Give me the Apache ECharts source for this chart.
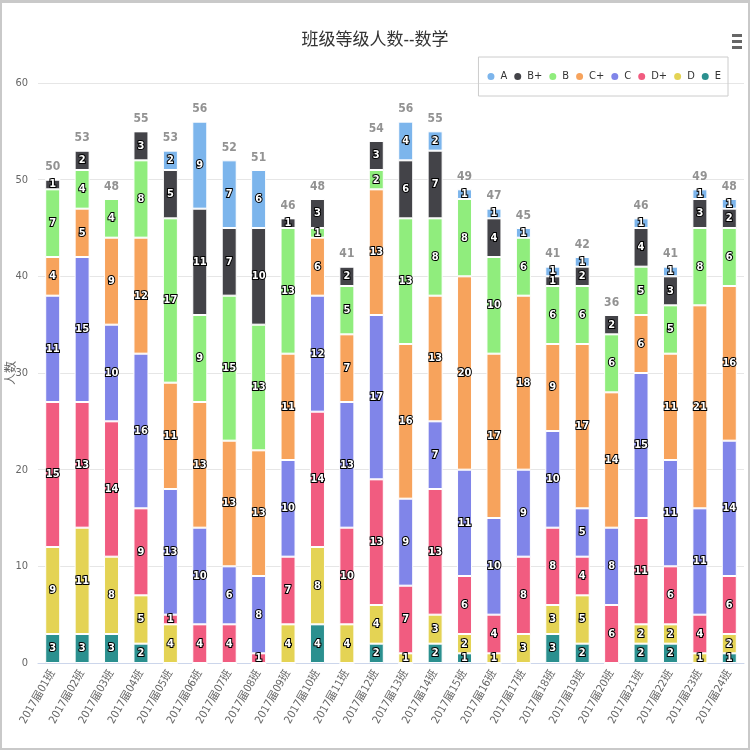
<!DOCTYPE html>
<html>
<head>
<meta charset="utf-8">
<script src="https://cdn.jsdelivr.net/npm/echarts@6/dist/echarts.min.js"></script>
<style>
html,body{margin:0;padding:0;background:#fff;}
#wrap{width:750px;height:750px;box-sizing:border-box;border:2px solid #c9c9c9;border-top-width:3px;}
#chart{width:746px;height:745px;}
</style>
</head>
<body>
<div id="wrap"><div id="chart"></div></div>
<script>
const categories = ['2017届01班','2017届02班','2017届03班','2017届04班','2017届05班','2017届06班','2017届07班','2017届08班','2017届09班','2017届10班','2017届11班','2017届12班','2017届13班','2017届14班','2017届15班','2017届16班','2017届17班','2017届18班','2017届19班','2017届20班','2017届21班','2017届22班','2017届23班','2017届24班'];
const legendNames = ['A','B+','B','C+','C','D+','D','E'];
const valA  = [0,0,0,0,2,9,7,6,0,0,0,0,4,2,1,1,1,1,1,0,1,1,1,1];
const valBp = [1,2,0,3,5,11,7,10,1,3,2,3,6,7,0,4,0,1,2,2,4,3,3,2];
const valB  = [7,4,4,8,17,9,15,13,13,1,5,2,13,8,8,10,6,6,6,6,5,5,8,6];
const valCp = [4,5,9,12,11,13,13,13,11,6,7,13,16,13,20,17,18,9,17,14,6,11,21,16];
const valC  = [11,15,10,16,13,10,6,8,10,12,13,17,9,7,11,10,9,10,5,8,15,11,11,14];
const valDp = [15,13,14,9,1,4,4,1,7,14,10,13,7,13,6,4,8,8,4,6,11,6,4,6];
const valD  = [9,11,8,5,4,0,0,0,4,8,4,4,1,3,2,1,3,3,5,0,2,2,1,2];
const valE  = [3,3,3,2,0,0,0,0,0,4,0,2,0,2,1,0,0,3,2,0,2,2,0,1];
const yTicks = [0,10,20,30,40,50,60];

const seriesDefs = [
  {name:'E', data:valE, color:'#2b908f'},
  {name:'D', data:valD, color:'#e4d354'},
  {name:'D+', data:valDp, color:'#f15c80'},
  {name:'C', data:valC, color:'#8085e9'},
  {name:'C+', data:valCp, color:'#f7a35c'},
  {name:'B', data:valB, color:'#90ed7d'},
  {name:'B+', data:valBp, color:'#434348'},
  {name:'A', data:valA, color:'#7cb5ec'}
];
const totals = categories.map((c,i)=>seriesDefs.reduce((s,d)=>s+d.data[i],0));
const FONT = '"Liberation Sans Narrow","DejaVu Sans Condensed","Open Sans","Noto Sans CJK SC",sans-serif';

const chart = echarts.init(document.getElementById('chart'));
const series = seriesDefs.map(d=>({
  name:d.name, type:'bar', stack:'total', barWidth:15,
  itemStyle:{color:d.color, borderColor:'#fff', borderWidth:1},
  label:{show:true, position:'inside', color:'#fff', fontSize:11, fontWeight:'bold', fontFamily:FONT,
    textBorderColor:'#000', textBorderWidth:2,
    formatter:p=>p.value>0?String(p.value):''},
  data:d.data
}));
series.push({
  name:'总数', type:'scatter', symbolSize:1, itemStyle:{color:'rgba(0,0,0,0)'}, silent:true, z:10,
  label:{show:true, position:'top', distance:6, color:'#777', fontSize:12, fontWeight:'bold', fontFamily:FONT,
    formatter:p=>String(p.value)},
  labelLayout:{hideOverlap:false},
  data:totals
});

chart.setOption({
  animation:false,
  textStyle:{fontFamily:FONT},
  title:{text:'班级等级人数--数学', left:'center', top:24,
    textStyle:{fontSize:17, fontWeight:'normal', color:'#333', fontFamily:FONT}},
  legend:{data:legendNames, right:20, top:54, orient:'horizontal', padding:[14,7], itemGap:5,
    borderColor:'#cccccc', borderWidth:1, icon:'circle', itemWidth:9, itemHeight:12,
    textStyle:{fontSize:11, fontWeight:'normal', color:'#333', fontFamily:FONT}},
  grid:{left:36, right:4, top:80, bottom:85, outerBoundsMode:'none', containLabel:false},
  xAxis:{type:'category', data:categories,
    axisLine:{lineStyle:{color:'#ccd6eb'}}, axisTick:{show:false},
    axisLabel:{rotate:60, interval:0, color:'#666', fontSize:11, margin:8, fontFamily:FONT}},
  yAxis:{type:'value', min:yTicks[0], max:yTicks[yTicks.length-1], interval:10,
    name:'人数', nameLocation:'middle', nameGap:20, nameRotate:90, nameMoveOverlap:false,
    nameTextStyle:{color:'#666', fontSize:12, fontFamily:FONT},
    axisLine:{show:false}, axisTick:{show:false},
    axisLabel:{color:'#666', fontSize:11, margin:10, fontFamily:FONT},
    splitLine:{lineStyle:{color:'#e6e6e6'}}},
  graphic:[
    {type:'rect', right:6, top:31, shape:{width:10, height:3}, style:{fill:'#666'}},
    {type:'rect', right:6, top:37, shape:{width:10, height:3}, style:{fill:'#666'}},
    {type:'rect', right:6, top:43, shape:{width:10, height:3}, style:{fill:'#666'}}
  ],
  series:series
});
</script>
</body>
</html>
